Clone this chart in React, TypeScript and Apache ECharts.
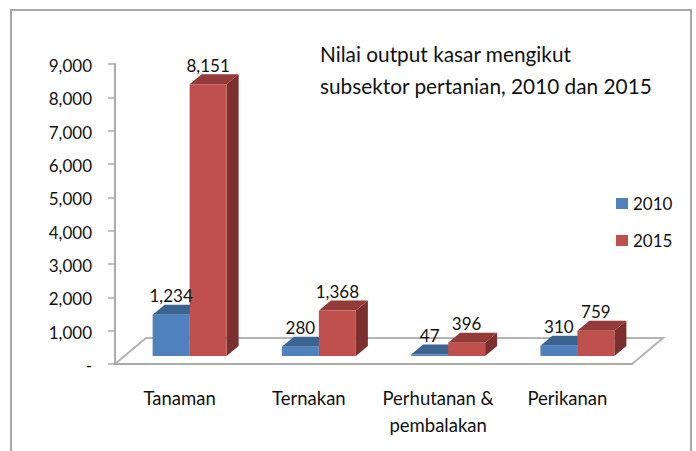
import React, { useEffect, useRef } from "react";
import * as echarts from "echarts";

const categories = ["Tanaman", "Ternakan", "Perhutanan &\npembalakan", "Perikanan"];
const values2010 = [1234, 280, 47, 310];
const values2015 = [8151, 1368, 396, 759];
const titleLines = ["Nilai output kasar mengikut", "subsektor pertanian, 2010 dan 2015"];
const FONT = "Lato";

const fmt = (v: number) => (v === 0 ? "-" : v.toLocaleString("en-US"));

const W = 37, DX = 12, DY = 10, LIFT = 8;
const OFFSET_2010 = -27, OFFSET_2015 = 10;

function bar3d(startOffset: number, front: string, top: string, side: string) {
  return (params: any, api: any) => {
    const v = api.value(1);
    const p = api.coord([api.value(0), v]);
    const base = api.coord([api.value(0), 0]);
    const x0 = p[0] + startOffset;
    const x1 = x0 + W;
    const yT = p[1] - LIFT;
    const yB = base[1] - LIFT;
    return {
      type: "group",
      children: [
        { type: "polygon", shape: { points: [[x1, yT], [x1 + DX, yT - DY], [x1 + DX, yB - DY], [x1, yB]] }, style: { fill: side } },
        { type: "polygon", shape: { points: [[x0, yT], [x0 + DX, yT - DY], [x1 + DX, yT - DY], [x1, yT]] }, style: { fill: top } },
        { type: "rect", shape: { x: x0, y: yT, width: W, height: Math.max(yB - yT, 0.5) }, style: { fill: front } },
      ],
    };
  };
}

function valueLabel(startOffset: number) {
  return (params: any, api: any) => {
    const v = api.value(1);
    const p = api.coord([api.value(0), v]);
    return {
      type: "text",
      x: p[0] + startOffset + W / 2,
      y: p[1] - LIFT - 19,
      style: { text: fmt(v), fill: "#111", font: `17px ${FONT}`, align: "center", verticalAlign: "middle" },
    };
  };
}

export default function App() {
  const ref = useRef<HTMLDivElement>(null);
  useEffect(() => {
    const chart = echarts.init(ref.current!, undefined, { renderer: "svg" });
    chart.setOption({
      animation: false,
      backgroundColor: "#fff",
      textStyle: { fontFamily: FONT },
      title: {
        text: titleLines.join("\n"),
        left: 320,
        top: 37,
        padding: 0,
        textStyle: { fontFamily: FONT, fontSize: 20.8, fontWeight: "normal", color: "#111", lineHeight: 32 },
      },
      legend: {
        orient: "vertical",
        left: 616,
        top: 194,
        itemWidth: 12,
        itemHeight: 11,
        itemGap: 18,
        icon: "rect",
        padding: 0,
        data: ["2010", "2015"],
        textStyle: { fontFamily: FONT, fontSize: 17, color: "#111", padding: [1, 0, 0, 0], lineHeight: 18 },
      },
      grid: { left: 115, top: 64, width: 517, height: 300 },
      xAxis: {
        type: "category",
        data: categories,
        axisLine: { lineStyle: { color: "#ababab", width: 2 } },
        axisTick: { length: 6, lineStyle: { color: "#ababab", width: 1.5 } },
        axisLabel: { fontFamily: FONT, fontSize: 18.5, color: "#111", margin: 20, lineHeight: 27, interval: 0 },
      },
      yAxis: {
        type: "value",
        min: 0,
        max: 9000,
        interval: 1000,
        splitLine: { show: false },
        axisLine: { show: true, lineStyle: { color: "#ababab", width: 2 } },
        axisTick: { show: true, length: 7, lineStyle: { color: "#ababab", width: 1.5 } },
        axisLabel: { fontFamily: FONT, fontSize: 17, color: "#111", margin: 23, verticalAlign: "top", lineHeight: 3, formatter: fmt },
      },
      graphic: [
        { type: "rect", shape: { x: 11, y: 10, width: 680, height: 500 }, style: { fill: "none", stroke: "#a6a6a6", lineWidth: 2 }, silent: true },
        {
          type: "polygon",
          shape: { points: [[115, 364], [146, 338], [663, 338], [632, 364]] },
          style: { fill: "#fff", stroke: "#b4b4b4", lineWidth: 2 },
          silent: true,
        },
      ],
      series: [
        {
          name: "2010",
          type: "custom",
          clip: false,
          itemStyle: { color: "#4f81bd" },
          encode: { x: 0, y: 1 },
          data: values2010.map((v, i) => [i, v]),
          renderItem: bar3d(OFFSET_2010, "#4f81bd", "#3c6491", "#345a85"),
          z: 3,
        },
        {
          name: "2015",
          type: "custom",
          clip: false,
          itemStyle: { color: "#c0504d" },
          encode: { x: 0, y: 1 },
          data: values2015.map((v, i) => [i, v]),
          renderItem: bar3d(OFFSET_2015, "#c0504d", "#943a38", "#7b2f2e"),
          z: 4,
        },
        {
          name: "labels2010",
          type: "custom",
          clip: false,
          silent: true,
          encode: { x: 0, y: 1 },
          data: values2010.map((v, i) => [i, v]),
          renderItem: valueLabel(OFFSET_2010),
          z: 5,
        },
        {
          name: "labels2015",
          type: "custom",
          clip: false,
          silent: true,
          encode: { x: 0, y: 1 },
          data: values2015.map((v, i) => [i, v]),
          renderItem: valueLabel(OFFSET_2015),
          z: 5,
        },
      ],
    });
    return () => chart.dispose();
  }, []);
  return <div ref={ref} style={{ position: "absolute", left: 0, top: 0, width: 696, height: 451 }} />;
}
